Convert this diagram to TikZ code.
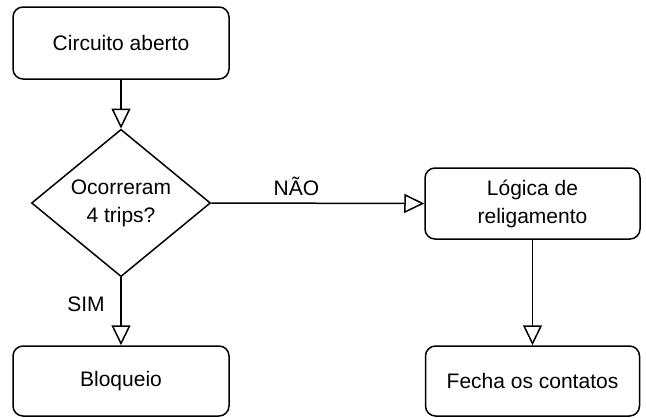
\documentclass[tikz,border=0pt]{standalone}
\usepackage{fontspec}
\setmainfont{Liberation Sans}
\usetikzlibrary{shapes.geometric,arrows.meta}
\begin{document}
\begin{tikzpicture}[x=1pt,y=-1pt,
  every node/.style={font=\fontsize{21}{28}\selectfont, text=black},
  boxnode/.style={draw, line width=1.5pt, rounded corners=10pt, align=center, inner sep=0pt},
  decnode/.style={draw, diamond, line width=1.5pt, align=center, inner sep=0pt, minimum width=179pt, minimum height=141pt},
  conn/.style={line width=1.5pt, -{Triangle[open, length=20pt, width=19pt, line width=1.5pt]}},
  lbl/.style={inner sep=0pt}]
\useasboundingbox (0,0) rectangle (646,418);
\node[boxnode, minimum width=216pt, minimum height=72pt] (a) at (121,43) {Circuito aberto};
\node[decnode] (d) at (121,203) {Ocorreram\\4 trips?};
\node[boxnode, minimum width=215pt, minimum height=71pt] (l) at (532.5,203.5) {Lógica de\\religamento};
\node[boxnode, minimum width=216pt, minimum height=70pt] (b) at (121,381) {Bloqueio};
\node[boxnode, minimum width=214pt, minimum height=70pt] (f) at (532.5,381) {Fecha os contatos};
\draw[conn] (a.south) -- (d.north);
\draw[conn] (d.east) -- node[lbl, pos=0.4, yshift=17pt] (nao) {NÃO} (l.west);
\draw[conn] (d.south) -- node[lbl, pos=0.39, xshift=-35pt] (sim) {SIM} (b.north);
\draw[conn] (l.south) -- (f.north);
\end{tikzpicture}
\end{document}
